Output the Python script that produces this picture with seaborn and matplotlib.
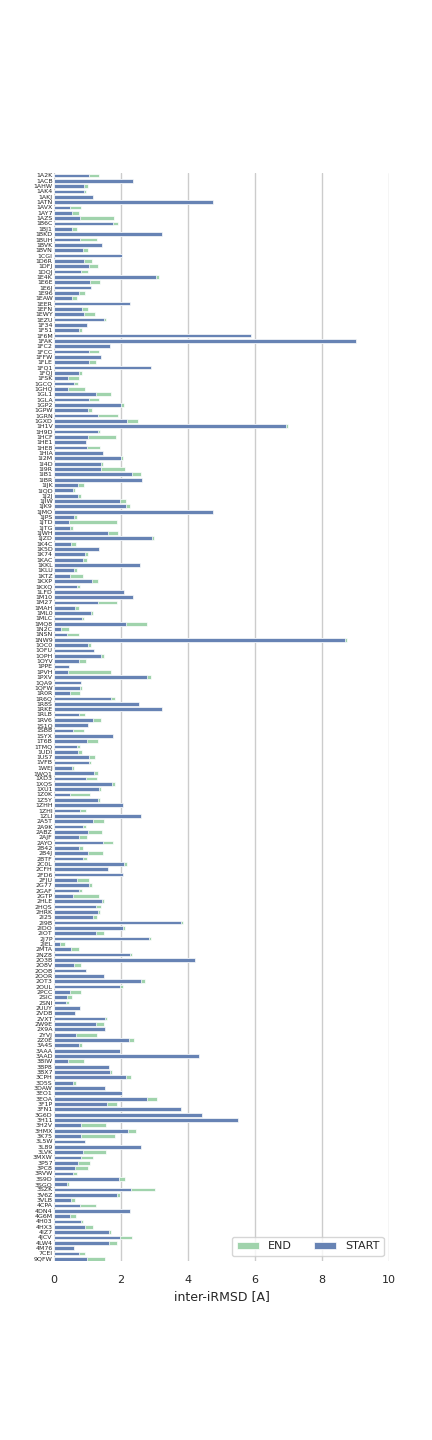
import numpy as np
import pandas as pd
import matplotlib
matplotlib.use("Agg")
import matplotlib.pyplot as plt
import seaborn as sns

complexes = [
    "1A2K", "1ACB", "1AHW", "1AK4", "1AKJ", "1ATN", "1AVX", "1AY7", "1AZS", "1B6C",
    "1BJ1", "1BKD", "1BUH", "1BVK", "1BVN", "1CGI", "1D6R", "1DFJ", "1DQJ", "1E4K",
    "1E6E", "1E6J", "1E96", "1EAW", "1EER", "1EFN", "1EWY", "1EZU", "1F34", "1F51",
    "1F6M", "1FAK", "1FC2", "1FCC", "1FFW", "1FLE", "1FQ1", "1FQJ", "1FSK", "1GCQ",
    "1GHQ", "1GL1", "1GLA", "1GP2", "1GPW", "1GRN", "1GXD", "1H1V", "1H9D", "1HCF",
    "1HE1", "1HE8", "1HIA", "1I2M", "1I4D", "1I9R", "1IB1", "1IBR", "1IJK", "1IQD",
    "1J2J", "1JIW", "1JK9", "1JMO", "1JPS", "1JTD", "1JTG", "1JWH", "1JZD", "1K4C",
    "1K5D", "1K74", "1KAC", "1KKL", "1KLU", "1KTZ", "1KXP", "1KXQ", "1LFD", "1M10",
    "1M27", "1MAH", "1ML0", "1MLC", "1MQ8", "1N2C", "1NSN", "1NW9", "1OC0", "1OFU",
    "1OPH", "1OYV", "1PPE", "1PVH", "1PXV", "1QA9", "1QFW", "1R0R", "1R6Q", "1R8S",
    "1RKE", "1RLB", "1RV6", "1S1Q", "1SBB", "1SYX", "1T6B", "1TMQ", "1UDI", "1US7",
    "1VFB", "1WEJ", "1WQ1", "1XD3", "1XQS", "1XU1", "1Z0K", "1Z5Y", "1ZHH", "1ZHI",
    "1ZLI", "2A5T", "2A9K", "2ABZ", "2AJF", "2AYO", "2B42", "2B4J", "2BTF", "2C0L",
    "2CFH", "2FD6", "2FJU", "2G77", "2GAF", "2GTP", "2HLE", "2HQS", "2HRK", "2I25",
    "2I9B", "2IDO", "2IOT", "2J7P", "2JEL", "2MTA", "2NZ8", "2O3B", "2O8V", "2OOB",
    "2OOR", "2OT3", "2OUL", "2PCC", "2SIC", "2SNI", "2UUY", "2VDB", "2VXT", "2W9E",
    "2X9A", "2YVJ", "2Z0E", "3A4S", "3AAA", "3AAD", "3BIW", "3BP8", "3BX7", "3CPH",
    "3D5S", "3DAW", "3EO1", "3EOA", "3F1P", "3FN1", "3G6D", "3H11", "3H2V", "3HMX",
    "3K75", "3L5W", "3L89", "3LVK", "3MXW", "3P57", "3PC8", "3RVW", "3S9D", "3SGQ",
    "3SZK", "3V6Z", "3VLB", "4CPA", "4DN4", "4G6M", "4H03", "4HX3", "4IZ7", "4JCV",
    "4LW4", "4M76", "7CEI", "9QFW",
]

start_rmsd = [
    1.05, 2.36, 0.90, 0.90, 1.16, 4.75, 0.48, 0.54, 0.78, 1.76,
    0.54, 3.22, 0.78, 1.43, 0.87, 2.03, 0.90, 1.05, 0.81, 3.04,
    1.07, 1.10, 0.75, 0.54, 2.27, 0.84, 0.90, 1.49, 0.99, 0.75,
    5.88, 9.01, 1.67, 1.05, 1.40, 1.05, 2.90, 0.75, 0.42, 0.60,
    0.42, 1.25, 1.05, 2.00, 1.01, 1.31, 2.18, 6.93, 1.31, 1.01,
    0.96, 0.99, 1.46, 2.00, 1.40, 1.40, 2.33, 2.63, 0.72, 0.57,
    0.72, 1.97, 2.15, 4.75, 0.60, 0.45, 0.48, 1.61, 2.93, 0.51,
    1.34, 0.93, 0.87, 2.57, 0.60, 0.48, 1.13, 0.69, 2.09, 2.36,
    1.31, 0.63, 1.10, 0.84, 2.15, 0.21, 0.39, 8.69, 1.01, 1.19,
    1.40, 0.75, 0.45, 0.42, 2.78, 0.81, 0.78, 0.48, 1.70, 2.54,
    3.22, 0.75, 1.16, 1.01, 0.57, 1.76, 0.99, 0.69, 0.72, 1.05,
    1.05, 0.54, 1.19, 0.96, 1.73, 1.34, 0.48, 1.31, 2.06, 0.78,
    2.60, 1.16, 0.87, 1.01, 0.75, 1.46, 0.75, 1.01, 0.87, 2.09,
    1.61, 2.06, 0.69, 1.05, 0.75, 0.57, 1.43, 1.25, 1.31, 1.16,
    3.79, 2.06, 1.25, 2.84, 0.18, 0.51, 2.27, 4.21, 0.60, 0.96,
    1.49, 2.60, 1.97, 0.48, 0.39, 0.36, 0.78, 0.63, 1.52, 1.25,
    1.52, 0.66, 2.24, 0.75, 1.97, 4.33, 0.42, 1.64, 1.67, 2.15,
    0.57, 1.52, 2.03, 2.78, 1.58, 3.79, 4.42, 5.49, 0.81, 2.21,
    0.81, 0.93, 2.60, 0.87, 0.81, 0.72, 0.63, 0.57, 1.94, 0.39,
    2.30, 1.88, 0.51, 0.78, 2.27, 0.48, 0.81, 0.93, 1.64, 1.97,
    1.64, 0.60, 0.75, 0.99,
]

# where no green shows, END is hidden behind START (set equal)
end_rmsd = [
    1.34, 2.36, 1.01, 0.95, 1.16, 4.75, 0.81, 0.75, 1.79, 1.91,
    0.69, 3.22, 1.28, 1.43, 1.01, 2.03, 1.13, 1.31, 1.01, 3.13,
    1.37, 1.10, 0.93, 0.69, 2.27, 1.01, 1.22, 1.55, 0.99, 0.84,
    5.88, 9.01, 1.67, 1.34, 1.40, 1.25, 2.90, 0.84, 0.75, 0.72,
    0.93, 1.70, 1.34, 2.09, 1.13, 1.91, 2.51, 6.99, 1.37, 1.85,
    0.96, 1.37, 1.46, 2.06, 1.46, 2.12, 2.60, 2.63, 0.90, 0.63,
    0.81, 2.15, 2.27, 4.75, 0.69, 1.88, 0.57, 1.91, 2.99, 0.66,
    1.34, 1.01, 0.99, 2.57, 0.69, 0.87, 1.31, 0.78, 2.09, 2.36,
    1.88, 0.75, 1.16, 0.90, 2.78, 0.45, 0.75, 8.75, 1.10, 1.19,
    1.49, 0.96, 0.45, 1.70, 2.90, 0.81, 0.84, 0.78, 1.82, 2.54,
    3.22, 0.93, 1.40, 1.01, 0.90, 1.76, 1.31, 0.78, 0.84, 1.22,
    1.10, 0.60, 1.31, 1.28, 1.82, 1.40, 1.07, 1.37, 2.06, 0.96,
    2.60, 1.49, 0.96, 1.43, 0.99, 1.76, 0.87, 1.46, 0.99, 2.18,
    1.61, 2.06, 1.05, 1.13, 0.84, 1.34, 1.49, 1.40, 1.37, 1.28,
    3.85, 2.12, 1.49, 2.90, 0.33, 0.75, 2.33, 4.21, 0.81, 0.96,
    1.49, 2.72, 2.06, 0.81, 0.54, 0.45, 0.78, 0.63, 1.58, 1.49,
    1.52, 1.28, 2.39, 0.84, 1.97, 4.33, 0.90, 1.64, 1.73, 2.30,
    0.66, 1.52, 2.03, 3.07, 1.88, 3.79, 4.42, 5.49, 1.55, 2.45,
    1.82, 0.93, 2.60, 1.55, 1.16, 1.07, 1.01, 0.69, 2.12, 0.45,
    3.01, 1.97, 0.63, 1.25, 2.27, 0.66, 0.87, 1.16, 1.70, 2.33,
    1.88, 0.60, 0.93, 1.52,
]

df = pd.DataFrame({"complex": complexes, "START": start_rmsd, "END": end_rmsd})

sns.set_theme(style="whitegrid")
fig = plt.figure(figsize=(4.32, 14.4), dpi=100)
ax = fig.add_axes([0.125, 0.124, 0.776, 0.756])

sns.barplot(data=df, x="END", y="complex", orient="h", color="#97dba8",
            width=0.7, edgecolor="white", linewidth=0.5, label="END", ax=ax)
sns.barplot(data=df, x="START", y="complex", orient="h", color="#5a7fc1",
            width=0.7, edgecolor="white", linewidth=0.5, label="START", ax=ax)

ax.set_xlim(0, 10)
ax.set_xticks([0, 2, 4, 6, 8, 10])
ax.set_ylim(len(complexes) - 0.5, -0.5)
ax.grid(axis="y", visible=False)
ax.tick_params(axis="y", labelsize=4.5, pad=1, length=0)
ax.tick_params(axis="x", labelsize=8)
for s in ax.spines.values():
    s.set_visible(False)
ax.set_xlabel("inter-iRMSD [A]", fontsize=9)
ax.set_ylabel("")
ax.legend(loc="lower right", ncol=2, fontsize=8, frameon=True)

fig.savefig("out.png", dpi=100)
